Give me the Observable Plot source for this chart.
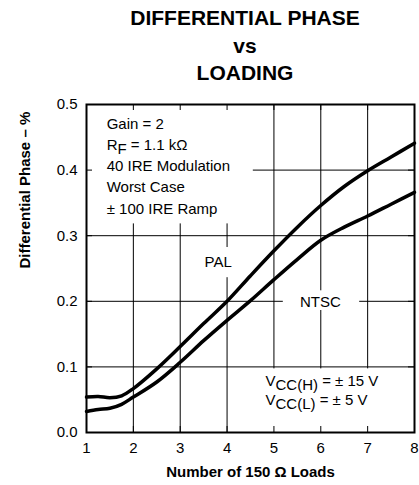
<!DOCTYPE html>
<html><head><meta charset="utf-8">
<script src="https://cdn.jsdelivr.net/npm/d3@7"></script>
<script src="https://cdn.jsdelivr.net/npm/@observablehq/plot@0.6"></script>
<style>
body{margin:0;background:#fff;font-family:"Liberation Sans",Arial,Helvetica,sans-serif;}
#title{box-sizing:border-box;width:419px;height:90px;padding-top:4px;padding-left:71px;text-align:center;font-weight:bold;font-size:21px;line-height:27.5px;color:#000;}
#title div{white-space:nowrap}
</style></head><body>
<div id="title"></div>
<div id="chart"></div>
<script>
const titleLines = ["DIFFERENTIAL PHASE", "vs", "LOADING"];
const loads = [1, 1.25, 1.5, 1.75, 2, 2.5, 3, 3.5, 4, 4.5, 5, 5.5, 6, 6.5, 7, 7.5, 8];
const pal  = [0.054, 0.055, 0.053, 0.056, 0.067, 0.097, 0.131, 0.166, 0.200, 0.239, 0.277, 0.313, 0.346, 0.375, 0.399, 0.420, 0.441];
const ntsc = [0.032, 0.035, 0.037, 0.043, 0.054, 0.077, 0.107, 0.140, 0.171, 0.201, 0.233, 0.264, 0.293, 0.313, 0.330, 0.348, 0.366];
const seriesLabels = ["PAL", "NTSC"];
const xTicks = [1, 2, 3, 4, 5, 6, 7, 8];
const yTicks = [0, 0.1, 0.2, 0.3, 0.4, 0.5];
const xLabel = "Number of 150 Ω Loads";
const yLabel = "Differential Phase – %";
const noteLines = ["Gain = 2", "R{F} = 1.1 kΩ", "40 IRE Modulation", "Worst Case", "± 100 IRE Ramp"];
const supplyLines = ["V{CC(H)} = ± 15 V", "V{CC(L)} = ± 5 V"];

d3.select("#title").selectAll("div").data(titleLines).join("div").text(d => d);

const rows = loads.flatMap((x, i) => [
  {x, y: pal[i], s: seriesLabels[0]},
  {x, y: ntsc[i], s: seriesLabels[1]}
]);
const gridX = xTicks.slice(1, -1);
const gridY = yTicks.slice(1, -1);
// white masks behind the annotation texts (in data units)
const masks = [
  {x1: 1, x2: 4.56, y1: 0.318, y2: 0.5},
  {x1: 3.38, x2: 4.24, y1: 0.236, y2: 0.282},
  {x1: 5.2, x2: 6.83, y1: 0.186, y2: 0.216},
  {x1: 4.5, x2: 8, y1: 0, y2: 0.097}
];
const font = '"Liberation Sans", Arial, Helvetica, sans-serif';

const plot = Plot.plot({
  width: 419, height: 395,
  marginLeft: 86, marginRight: 5, marginTop: 14, marginBottom: 53,
  style: {fontFamily: font, fontSize: "15px", color: "#000", background: "#fff", overflow: "visible"},
  x: {domain: [1, 8], ticks: xTicks, tickSize: 0, tickPadding: 10, tickFormat: d3.format("d"), label: null},
  y: {domain: [0, 0.5], ticks: yTicks, tickSize: 0, tickPadding: 9, tickFormat: d3.format(".1f"), label: null},
  marks: [
    Plot.ruleX(gridX, {stroke: "#000", strokeWidth: 1}),
    Plot.ruleY(gridY, {stroke: "#000", strokeWidth: 1}),
    Plot.rect(masks, {x1: "x1", x2: "x2", y1: "y1", y2: "y2", fill: "#fff"}),
    Plot.ruleX(gridX, {y1: 0.5, y2: 0.5, insetBottom: -6, stroke: "#000"}),
    Plot.ruleX(gridX, {y1: 0, y2: 0, insetTop: -6, stroke: "#000"}),
    Plot.ruleY(gridY, {x1: 1, x2: 1, insetRight: -6, stroke: "#000"}),
    Plot.ruleY(gridY, {x1: 8, x2: 8, insetLeft: -6, stroke: "#000"}),
    Plot.line(rows, {x: "x", y: "y", z: "s", curve: "catmull-rom", stroke: "#000", strokeWidth: 3.5}),
    Plot.text(noteLines, {x: 1.43, y: (d, i) => 0.463 - i * 0.03235, text: d => d, textAnchor: "start", lineAnchor: "bottom", fontSize: 15, fill: "#000"}),
    Plot.text([seriesLabels[0]], {x: 3.81, y: 0.252, text: d => d, lineAnchor: "bottom", fontSize: 15, fill: "#000"}),
    Plot.text([seriesLabels[1]], {x: 5.99, y: 0.191, text: d => d, lineAnchor: "bottom", fontSize: 15, fill: "#000"}),
    Plot.text(supplyLines, {x: 4.82, y: (d, i) => 0.0716 - i * 0.029, text: d => d, textAnchor: "start", lineAnchor: "bottom", fontSize: 15, fill: "#000"}),
    Plot.text([xLabel], {frameAnchor: "bottom", dy: 44, text: d => d, fontWeight: "bold", fontSize: 15, fill: "#000"}),
    Plot.text([yLabel], {frameAnchor: "left", rotate: -90, dx: -61, text: d => d, fontWeight: "bold", fontSize: 15, fill: "#000"}),
    Plot.frame({stroke: "#000", strokeWidth: 2})
  ]
});

d3.select(plot).selectAll("text").each(function () {
  const t = this.textContent;
  const m = t.match(/^(.*?)\{(.*?)\}(.*)$/);
  if (!m) return;
  const sel = d3.select(this);
  sel.text(null);
  sel.append("tspan").text(m[1]);
  sel.append("tspan").attr("dy", 4).text(m[2]);
  sel.append("tspan").attr("dy", -4).text(m[3]);
});

document.getElementById("chart").appendChild(plot);
</script>
</body></html>
